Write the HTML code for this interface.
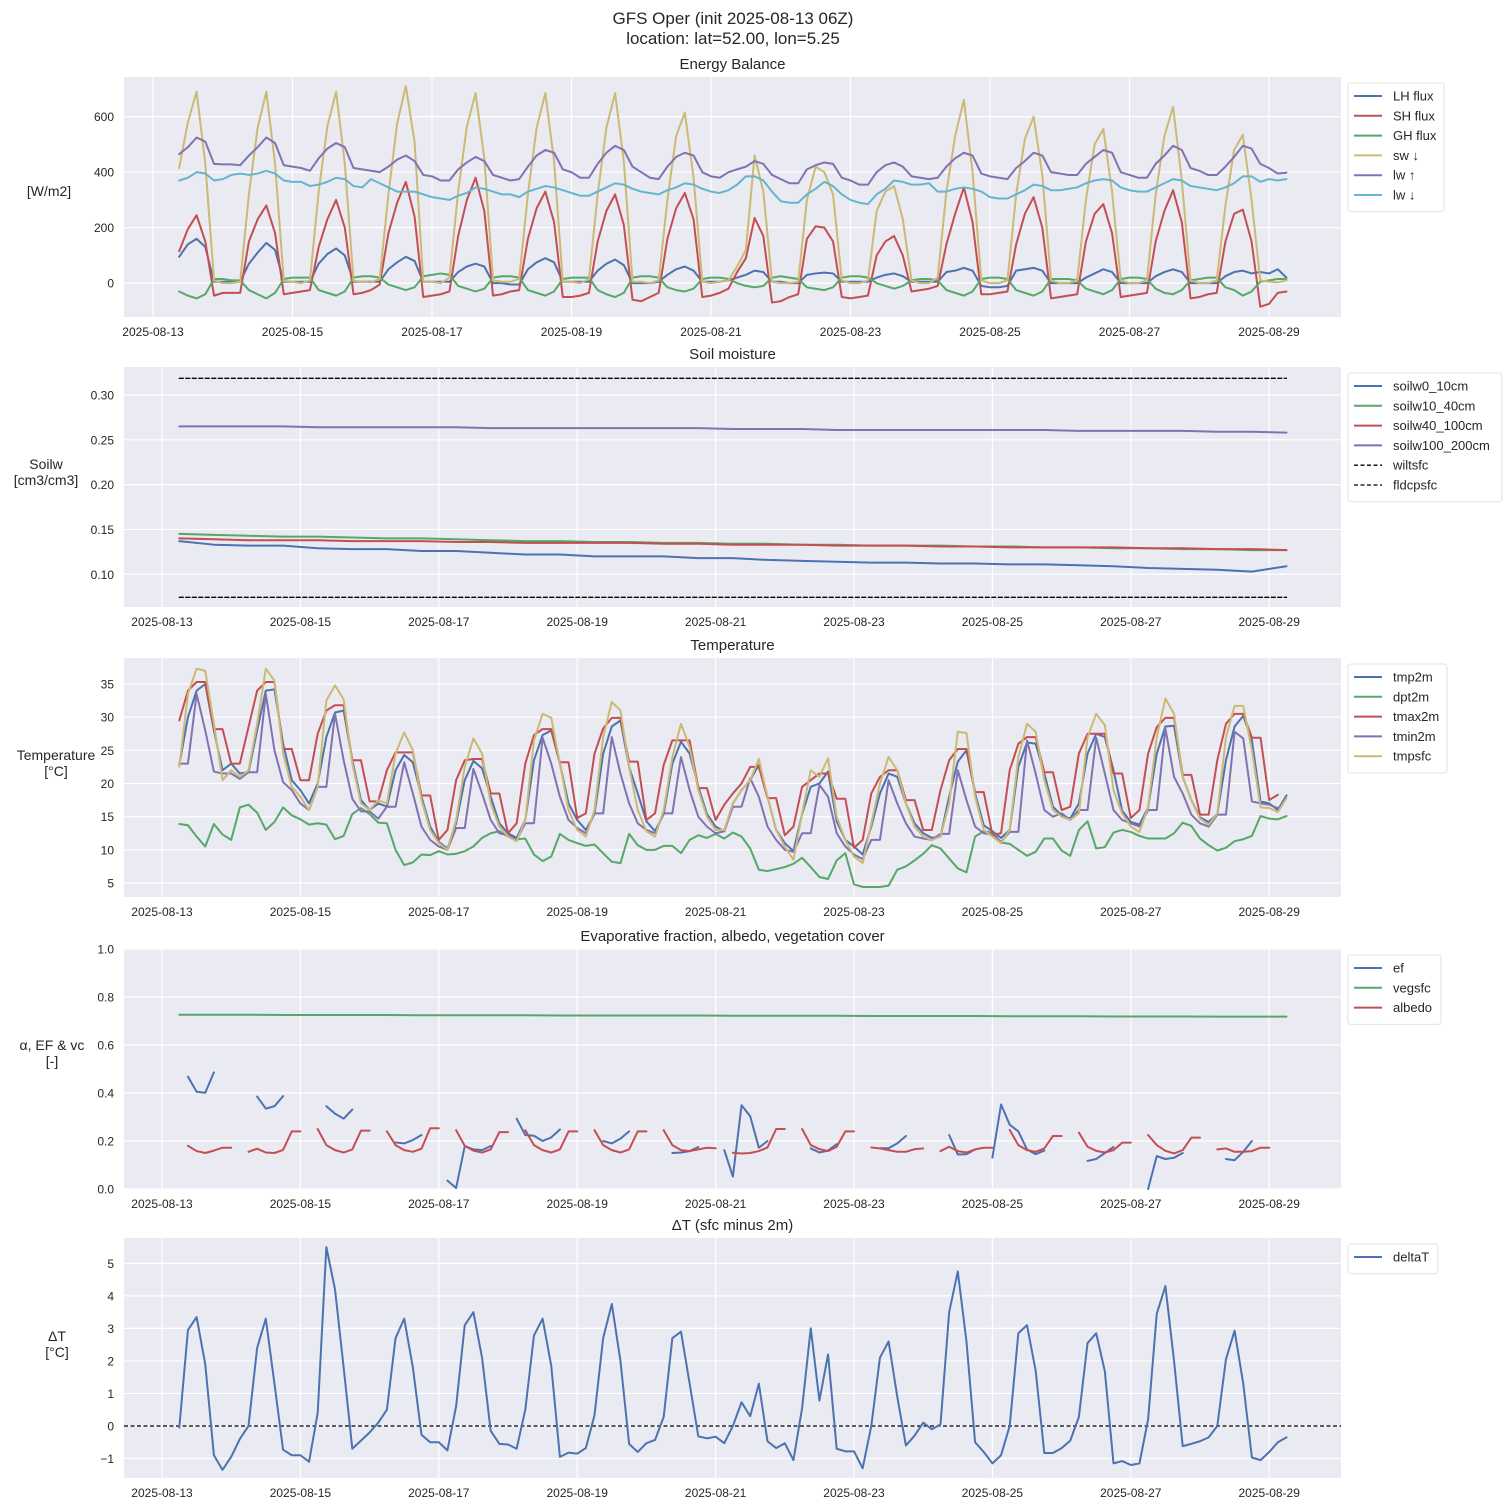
<!DOCTYPE html>
<html><head><meta charset="utf-8"><title>GFS Oper</title>
<style>
html,body{margin:0;padding:0;background:#fff;}
svg{display:block;font-family:"Liberation Sans",Arial,sans-serif;}
</style></head>
<body>
<svg id="fig" xmlns="http://www.w3.org/2000/svg" width="1511" height="1511" viewBox="0 0 1511 1511">
<rect x="0" y="0" width="1511" height="1511" fill="#ffffff"/>
<text x="733" y="24" font-size="17" text-anchor="middle" fill="#262626">GFS Oper (init 2025-08-13 06Z)</text>
<text x="733" y="44" font-size="17" text-anchor="middle" fill="#262626">location: lat=52.00, lon=5.25</text>
</svg>
<script>
// ---- dates / ticks ----
const dateTicks=[0,2,4,6,8,10,12,14,16];
const dateLabels=['2025-08-13','2025-08-15','2025-08-17','2025-08-19','2025-08-21','2025-08-23','2025-08-25','2025-08-27','2025-08-29'];

// ---- Energy balance (3-hourly from 13 09Z) ----
const ebStartHour=9;
const lhFlux=[95,140,160,130,5,
5,5,5,70,110,145,120,5, 5,5,5,70,105,125,100,5, 5,5,5,50,75,95,80,5, 5,5,5,40,60,70,60,0,
0,-5,-5,50,75,90,75,5, 5,5,5,45,70,85,65,0, 0,0,5,30,50,60,45,5, 5,5,10,20,30,45,40,5,
5,0,0,30,35,38,35,5, 5,5,5,20,30,35,25,5, 5,5,5,40,45,55,45,-10, -15,-15,-10,45,50,55,45,0,
0,0,0,20,35,50,40,0, 0,0,0,25,40,50,40,0, 0,0,0,25,40,45,35,40, 35,50,20];
const shFlux=[115,195,245,150,-45,
-35,-35,-35,150,230,280,180,-40, -35,-30,-25,130,230,300,200,-40, -35,-25,-5,180,290,365,240,-50,
-45,-40,-30,170,300,380,260,-45, -40,-30,-25,160,270,330,220,-50, -50,-45,-35,150,260,320,210,-60,
-65,-50,-35,160,270,325,230,-50, -45,-35,-20,40,90,235,170,-70, -65,-50,-40,160,205,200,150,-50,
-55,-50,-45,100,150,170,100,-30, -25,-20,-10,140,250,345,220,-40, -40,-35,-30,140,250,310,200,-55,
-50,-45,-40,150,250,285,180,-50, -45,-40,-35,150,260,335,220,-55, -50,-40,-35,150,250,265,150,-85,
-75,-35,-30];
const ghFlux=[-30,-45,-55,-40,15,
15,10,10,-25,-40,-55,-35,15, 20,20,20,-25,-35,-45,-30,20, 25,25,20,-5,-15,-25,-15,25,
30,35,30,-10,-20,-30,-20,20, 25,25,20,-25,-35,-45,-30,15, 20,20,20,-25,-40,-50,-35,20,
25,25,20,-15,-25,-30,-20,15, 20,20,15,0,-10,-15,-10,20, 25,20,15,-15,-20,-25,-15,20,
25,25,20,0,-10,-20,-10,10, 15,15,10,-25,-35,-45,-30,15, 20,20,15,-25,-35,-45,-30,15,
15,15,10,-20,-30,-40,-25,15, 20,20,15,-20,-35,-40,-25,10, 15,20,20,-15,-25,-45,-30,5,
10,15,15];
const swDown=[415,580,690,430,10,
0,0,5,320,560,690,430,8, 5,0,10,330,565,690,430,8, 5,3,15,320,575,710,510,5,
5,0,20,330,565,685,450,10, 5,5,15,320,560,685,440,5, 5,0,15,320,560,685,440,5,
5,0,10,300,530,615,380,5, 0,5,10,60,120,460,330,5, 0,0,5,300,420,400,320,10,
0,0,10,260,330,350,230,10, 0,0,20,330,530,660,400,10, 0,0,10,320,520,600,390,10,
0,0,10,300,500,555,330,10, 0,0,10,320,530,635,370,10, 0,0,10,280,480,535,300,10,
5,3,10];
const lwUp=[465,490,525,510,430,
428,428,425,460,490,525,505,425, 420,415,405,450,485,505,490,415, 410,405,400,420,445,460,440,390,
385,370,370,410,435,455,440,390, 380,370,375,420,460,480,470,410, 400,380,380,430,470,495,480,420,
400,380,375,420,455,470,460,400, 385,380,400,410,420,440,430,390, 375,360,360,410,425,435,430,380,
370,355,355,400,425,435,420,385, 380,375,380,420,450,470,460,395, 385,380,375,415,440,470,460,400,
395,390,390,430,455,480,470,400, 390,380,380,430,460,495,480,415, 405,390,390,420,455,495,485,430,
415,395,398];
const lwDown=[370,380,400,395,370,
375,390,395,390,395,405,395,370, 365,365,350,355,365,380,375,350, 345,375,360,345,330,330,330,320,
310,305,300,315,325,345,340,330, 320,320,310,330,340,350,345,335, 325,315,315,330,345,360,355,340,
330,325,320,335,345,360,355,340, 330,325,335,355,385,385,370,330, 295,290,290,320,340,365,350,320,
300,290,285,320,340,370,365,355, 355,360,330,330,340,345,340,330, 310,305,305,320,335,355,350,335,
335,340,345,360,370,375,370,345, 335,330,330,345,360,375,370,350, 345,340,335,345,360,385,385,365,
375,370,375];

// ---- Soil moisture (12-hourly from 13 06Z) ----
const soilStartHour=6;
const soilw0_10=[.137,.133,.132,.132,.129,.128,.128,.126,.126,.124,.122,.122,.120,.120,.120,.118,.118,.116,.115,.114,.113,.113,.112,.112,.111,.111,.110,.109,.107,.106,.105,.103,.109];
const soilw10_40=[.145,.144,.143,.142,.142,.141,.140,.140,.139,.138,.137,.137,.136,.136,.135,.135,.134,.134,.133,.133,.132,.132,.132,.131,.131,.130,.130,.129,.129,.128,.128,.127,.127];
const soilw40_100=[.140,.139,.138,.138,.138,.137,.137,.137,.136,.136,.135,.135,.135,.135,.134,.134,.133,.133,.133,.132,.132,.132,.131,.131,.130,.130,.130,.130,.129,.129,.128,.128,.127];
const soilw100_200=[.265,.265,.265,.265,.264,.264,.264,.264,.264,.263,.263,.263,.263,.263,.263,.263,.262,.262,.262,.261,.261,.261,.261,.261,.261,.261,.260,.260,.260,.260,.259,.259,.258];
const wiltsfc=[0.0743,0.0743];
const fldcpsfc=[0.3186,0.3186];

// ---- Temperature (3-hourly from 13 06Z) ----
const tStartHour=6;
const tmp2m=[22.8,30,34,35,28,22,
23,21.5,21.7,28,34,34.2,26,20.5, 19,17,20,27,30.7,31,23.5,17.5, 16,17,16.5,22,24.3,23.2,18,13.5,
11.2,10.2,14,20.5,23.4,22.3,18,14, 12.5,11.8,14.5,23.5,27.3,28,23,17, 14.5,13,15.4,24.5,28.6,29.5,22.5,18.5,
14.3,12.8,15.4,23,26.3,24.5,19.5,15.4, 13.5,12.8,17,19,20.5,22.8,18,13, 11,9.8,15.4,19.5,20,21.8,14.3,11.5,
10.5,9.3,13.5,18.5,21.5,21,17,14, 12.5,11.8,12,18,23.3,25,18.5,13.7, 12.8,11.8,13,22.5,26.2,26,21.5,16.5,
15.2,14.7,17,24.5,27.5,27,22,15.9, 14.2,13.8,16.4,24.5,28.6,28.7,21,17.5, 14.9,14.2,15.4,23.5,28.6,30.2,26.5,17.3,
17,16,18.2];
const dpt2m=[13.9,13.7,12,10.5,13.9,12.3,
11.5,16.4,16.8,15.6,13,14.2,16.4,15.2, 14.6,13.8,14,13.8,11.6,12.1,15.4,16.3, 15.4,14.1,14,10,7.7,8.1,9.3,9.2,
9.8,9.3,9.4,9.8,10.5,11.8,12.5,12.8, 12,11.6,11.7,9.3,8.3,9,12.4,11.5, 11,10.6,10.8,9.5,8.2,8,12.4,10.7,
10,10,10.6,10.6,9.5,11.5,12.2,11.8, 12.4,11.7,12.6,12,10.2,7,6.8,7.1, 7.4,7.9,8.8,7.4,5.9,5.6,8.4,9.5,
4.8,4.4,4.4,4.4,4.6,7,7.5,8.4, 9.4,10.7,10.2,8.7,7.2,6.6,12,12.8, 12.6,11.1,10.9,10,9.1,9.7,11.7,11.7,
9.9,9.1,13,14.3,10.2,10.4,12.6,13, 12.7,12.1,11.7,11.7,11.7,12.5,14.1,13.6, 11.7,10.7,9.9,10.3,11.3,11.6,12.1,15.1,
14.7,14.6,15.1];
const tmax2m=[29.5,34,35.3,35.3,28.2,28.2,
23,23,28.5,34,35.3,35.3,25.2,25.2, 20.5,20.5,27.5,31,31.8,31.8,23.5,23.5, 17.3,17.3,22,24.7,24.7,24.7,18.2,18.2,
11.5,13,20.5,23.5,23.7,23.7,18.5,18.5, 12.5,14,23,27.3,28.2,28.2,23.2,23.2, 14.8,15.5,24.5,28.3,29.9,29.9,23.3,23.3,
14.5,15.5,22.8,26.5,26.5,26.5,19.3,19.3, 14.5,16.8,18.5,20,22.5,22.5,17.8,17.8, 12.2,13.5,19.5,20.5,21.5,21.5,17.7,17.7,
10.3,11.5,18.5,21,22,22,17.5,17.5, 13,13,19,23.5,25.2,25.2,18.7,18.7, 12.3,12.5,22,26,27,27,21.7,21.7,
16,16.5,24.5,27.5,27.5,27.5,21.5,21.5, 14.8,16,24.5,28.5,29.9,29.9,21.3,21.3, 15.3,15.3,23.5,29,30.5,30.5,26.9,26.9,
17.5,18.3,null];
const tmin2m=[23,23,33.5,28,21.8,21.5,
21.5,20.7,21.7,21.7,33.5,25,20.2,19, 17,16,19.5,19.5,30.5,23.5,17.7,15.8, 15.8,14.7,16.5,16.5,23.2,18.5,13.5,11.5,
10.5,10,13.3,13.3,22.2,18.5,14.5,12.5, 12.2,11.5,14,14,26.9,23,18,14.5, 13.3,12.5,15.5,15.5,27,21.5,17,14,
13,12.5,15.5,15.5,24,19,15,13.5, 12.5,12.8,16.5,16.5,20.8,18,13.5,11.5, 10,9.7,12.5,12.5,19.8,18,12.5,10.5,
9.3,8.6,11.5,11.5,20.5,17,14,12, 11.7,11.5,12.4,12.4,22,17.5,13.5,12.5, 12.3,11.2,12.7,12.7,26.5,21.5,16,15,
15.5,14.5,16,16,26.9,21.5,16,14.5, 14,13.5,16,16,28.3,21,18.5,15.3, 14,13.5,15.3,15.3,27.8,26.8,17.3,17,
16.8,16.3,null];
const tmpsfc=[22.5,33.5,37.3,37,29,20.5,
22,21,22,29,37.3,35.5,24.5,19.5, 18,16,19.5,32.5,34.8,32.7,23,17, 16,17.5,17,24.5,27.7,25,17.5,13,
11,10,14.5,22.5,26.8,24.5,17,13.5, 12,11.3,14.5,26.5,30.5,29.9,23,16, 13,12,16,27,32.3,31,22.5,16,
12.8,12,16,24,29,25.5,19,15, 13,13,17,19,20.5,23.7,18,13, 10.5,8.5,15.5,22,21,23.8,15,11.5,
9,8,14,20,24,22,17,13.5, 12,11.5,12,17,27.8,27.6,18,13, 12,11,13,24,29,27.8,20.5,16,
15,14.5,15.5,27,30.5,28.8,19,15.5, 13.5,12.7,16.5,27,32.8,30.5,21,17.5, 14.7,13.8,15.5,27,31.7,31.7,25,16.4,
16.3,15.7,17.8];

// ---- Evaporative fraction / albedo / vegetation ----
const ef=[null,.468,.405,.401,.486,null,
null,null,null,.385,.335,.345,.387,null, null,null,null,.345,.314,.293,.331,null, null,null,null,.194,.19,.204,.225,null,
null,.035,.004,.179,.165,.162,.179,null, null,.293,.225,.222,.2,.215,.248,null, null,null,null,.2,.19,.21,.24,null,
null,null,null,.15,.152,.158,.175,null, null,.162,.052,.349,.303,.172,.2,null, null,null,null,.169,.152,.16,.187,null,
null,null,null,.17,.17,.19,.221,null, null,null,null,.225,.144,.145,.165,null, .131,.352,.268,.24,.165,.145,.16,null,
null,null,null,.117,.125,.15,.175,null, null,null,0,.137,.125,.13,.15,null, null,null,null,.125,.12,.155,.2,null,
null,null,null];
const albedo=[null,.18,.158,.15,.16,.172,
.172,null,.155,.168,.152,.15,.163,.24, .24,null,.25,.183,.162,.152,.165,.243, .243,null,.24,.183,.162,.155,.168,.253,
.253,null,.245,.18,.16,.152,.165,.237, .237,null,.245,.183,.162,.152,.165,.24, .24,null,.245,.183,.162,.152,.165,.24,
.24,null,.245,.183,.162,.158,.165,.172, .17,null,.151,.148,.15,.158,.173,.25, .25,null,.25,.183,.166,.158,.176,.24,
.24,null,.173,.169,.162,.155,.155,.166, .169,null,.158,.176,.158,.152,.165,.172, .172,null,.246,.183,.162,.155,.169,.221,
.221,null,.235,.176,.159,.152,.162,.193, .193,null,.225,.183,.159,.148,.162,.214, .214,null,.165,.169,.155,.155,.158,.172,
.172,null,null];
const vegsfc=[.726,.726,.726,.725,.725,.725,.725,.724,.724,.724,.724,.723,.723,.723,.723,.723,.722,.722,.722,.722,.721,.721,.721,.721,.720,.720,.720,.719,.719,.719,.718,.718,.718];

// ---- Delta T ----
const deltaT=[-0.05,2.95,3.35,1.9,-0.9,-1.35,-0.95,-0.4,0,2.4,3.3,1.3,-0.73,-0.9,-0.9,-1.1,0.4,5.5,4.2,1.8,-0.7,-0.45,-0.2,0.1,0.5,2.7,3.3,1.8,-0.27,-0.5,-0.5,-0.75,
0.6,3.1,3.5,2.1,-0.15,-0.55,-0.57,-0.7,0.5,2.78,3.3,1.85,-0.95,-0.82,-0.85,-0.68,0.33,2.7,3.75,2,-0.55,-0.8,-0.53,-0.43,0.28,2.7,2.9,1.3,-0.32,-0.38,-0.33,-0.53,
0,0.73,0.3,1.3,-0.47,-0.68,-0.53,-1.05,0.55,3.0,0.78,2.2,-0.7,-0.78,-0.78,-1.3,0,2.1,2.6,0.9,-0.6,-0.3,0.1,-0.1,0.05,3.5,4.75,2.6,-0.5,-0.8,-1.15,-0.9,
0,2.85,3.1,1.7,-0.83,-0.83,-0.68,-0.45,0.28,2.55,2.85,1.68,-1.15,-1.08,-1.2,-1.15,0.2,3.45,4.3,2,-0.62,-0.55,-0.47,-0.35,0,2.05,2.93,1.3,-0.97,-1.05,-0.8,-0.5,-0.35];

// ---- drawing ----
const NS='http://www.w3.org/2000/svg';
const svg=document.getElementById('fig');
const C={blue:'#4C72B0',green:'#55A868',red:'#C44E52',purple:'#8172B2',yellow:'#CCB974',cyan:'#64B5CD'};
const AX_L=124, AX_R=1341;
function el(tag,attrs,parent){const e=document.createElementNS(NS,tag);for(const k in attrs)e.setAttribute(k,attrs[k]);(parent||svg).appendChild(e);return e;}

function makePanel(cfg){
  const g=el('g',{});
  
  
  const bg=el('rect',{x:AX_L,y:cfg.top,width:AX_R-AX_L,height:cfg.bot-cfg.top,fill:'#EAEAF2'},g);
  
  
  cfg.xs=h=>cfg.x13+h/24*cfg.pxd;
  cfg.ys=v=>cfg.bot-(v-cfg.ymin)/(cfg.ymax-cfg.ymin)*(cfg.bot-cfg.top);
  dateTicks.forEach((d,i)=>{
    const x=cfg.xs(d*24);
    const gl=el('line',{x1:x,x2:x,y1:cfg.top,y2:cfg.bot,stroke:'#fff','stroke-width':1.2},g);
    
    
    const t=el('text',{x:x,y:cfg.bot+19,'font-size':12,'text-anchor':'middle',fill:'#262626'},g);
    t.textContent=dateLabels[i];
    
    
  });
  cfg.yticks.forEach(v=>{
    const y=cfg.ys(v);
    const gl=el('line',{x1:AX_L,x2:AX_R,y1:y,y2:y,stroke:'#fff','stroke-width':1.2},g);
    
    
    const t=el('text',{x:114,y:y+4.5,'font-size':12,'text-anchor':'end',fill:'#262626'},g);
    t.textContent=cfg.fmt(v);
    
    
  });
  const tt=el('text',{x:(AX_L+AX_R)/2,y:cfg.top-8,'font-size':15,'text-anchor':'middle',fill:'#262626'},g);
  tt.textContent=cfg.title;
  
  
  cfg.ylab.forEach((s,i)=>{
    const t=el('text',{x:cfg.ylx,y:cfg.yly+i*16,'font-size':14,'text-anchor':'middle',fill:'#262626'},g);
    t.textContent=s;
    
    
  });
  cfg.g=g;
  return cfg;
}
function series(cfg,vals,startH,stepH,color,name,dash){
  let d='',pen=false;
  vals.forEach((v,i)=>{
    if(v===null||v===undefined){pen=false;return;}
    const x=cfg.xs(startH+i*stepH).toFixed(2), y=cfg.ys(v).toFixed(2);
    d+=(pen?'L':'M')+x+' '+y+' ';pen=true;
  });
  const p=el('path',{d:d,fill:'none',stroke:color,'stroke-width':dash?1.3:2,'stroke-linejoin':'round','stroke-linecap':'round'},cfg.g);
  if(dash)p.setAttribute('stroke-dasharray','4,2.5');
  
  
}
function legend(cfg,items,x,y,w){
  const lg=el('g',{},cfg.g);
  
  
  el('rect',{x:x,y:y,width:w,height:items.length*19.8+10,rx:3,fill:'#ffffff','fill-opacity':0.85,stroke:'#e2e2e2'},lg);
  items.forEach((it,i)=>{
    const yy=y+13+i*19.8;
    const ln=el('line',{x1:x+6,x2:x+34,y1:yy,y2:yy,stroke:it[1],'stroke-width':it[2]?1.3:2,'stroke-dasharray':it[2]?'4,2.5':'none'},lg);
    
    
    const t=el('text',{x:x+45,y:yy+4.5,'font-size':13,fill:'#262626'},lg);
    t.textContent=it[0];
    
    
  });
}

// Panel 1
const p1=makePanel({name:'energy-balance-panel',top:77,bot:317,x13:153,pxd:69.75,ymin:-122,ymax:743,yticks:[0,200,400,600],fmt:v=>String(v),title:'Energy Balance',ylab:['[W/m2]'],ylx:49,yly:196});
series(p1,lhFlux,ebStartHour,3,C.blue,'lh-flux');
series(p1,shFlux,ebStartHour,3,C.red,'sh-flux');
series(p1,ghFlux,ebStartHour,3,C.green,'gh-flux');
series(p1,swDown,ebStartHour,3,C.yellow,'sw-down');
series(p1,lwUp,ebStartHour,3,C.purple,'lw-up');
series(p1,lwDown,ebStartHour,3,C.cyan,'lw-down');
legend(p1,[['LH flux',C.blue],['SH flux',C.red],['GH flux',C.green],['sw ↓',C.yellow],['lw ↑',C.purple],['lw ↓',C.cyan]],1348,83,96);

// Panel 2
const p2=makePanel({name:'soil-moisture-panel',top:367,bot:607,x13:162,pxd:69.2,ymin:0.0635,ymax:0.3312,yticks:[0.10,0.15,0.20,0.25,0.30],fmt:v=>v.toFixed(2),title:'Soil moisture',ylab:['Soilw','[cm3/cm3]'],ylx:46,yly:469});
series(p2,soilw0_10,soilStartHour,12,C.blue,'soilw0-10cm');
series(p2,soilw10_40,soilStartHour,12,C.green,'soilw10-40cm');
series(p2,soilw40_100,soilStartHour,12,C.red,'soilw40-100cm');
series(p2,soilw100_200,soilStartHour,12,C.purple,'soilw100-200cm');
series(p2,wiltsfc,soilStartHour,384,'#000','wiltsfc',true);
series(p2,fldcpsfc,soilStartHour,384,'#000','fldcpsfc',true);
legend(p2,[['soilw0_10cm',C.blue],['soilw10_40cm',C.green],['soilw40_100cm',C.red],['soilw100_200cm',C.purple],['wiltsfc','#000',true],['fldcpsfc','#000',true]],1348,373,154);

// Panel 3
const p3=makePanel({name:'temperature-panel',top:658,bot:897,x13:162,pxd:69.2,ymin:2.89,ymax:38.92,yticks:[5,10,15,20,25,30,35],fmt:v=>String(v),title:'Temperature',ylab:['Temperature','[°C]'],ylx:56,yly:760});
series(p3,tmp2m,tStartHour,3,C.blue,'tmp2m');
series(p3,dpt2m,tStartHour,3,C.green,'dpt2m');
series(p3,tmax2m,tStartHour,3,C.red,'tmax2m');
series(p3,tmin2m,tStartHour,3,C.purple,'tmin2m');
series(p3,tmpsfc,tStartHour,3,C.yellow,'tmpsfc');
legend(p3,[['tmp2m',C.blue],['dpt2m',C.green],['tmax2m',C.red],['tmin2m',C.purple],['tmpsfc',C.yellow]],1348,664,99);

// Panel 4
const p4=makePanel({name:'evaporative-fraction-panel',top:949,bot:1189,x13:162,pxd:69.2,ymin:0,ymax:1,yticks:[0,0.2,0.4,0.6,0.8,1.0],fmt:v=>v.toFixed(1),title:'Evaporative fraction, albedo, vegetation cover',ylab:['α, EF & vc','[-]'],ylx:52,yly:1050});
series(p4,ef,tStartHour,3,C.blue,'ef');
series(p4,vegsfc,soilStartHour,12,C.green,'vegsfc');
series(p4,albedo,tStartHour,3,C.red,'albedo');
legend(p4,[['ef',C.blue],['vegsfc',C.green],['albedo',C.red]],1348,955,93);

// Panel 5
const p5=makePanel({name:'delta-t-panel',top:1238,bot:1478,x13:162,pxd:69.2,ymin:-1.6,ymax:5.78,yticks:[-1,0,1,2,3,4,5],fmt:v=>v<0?'−'+Math.abs(v):String(v),title:'ΔT (sfc minus 2m)',ylab:['ΔT','[°C]'],ylx:57,yly:1341});
const zl=el('line',{x1:AX_L,x2:AX_R,y1:p5.ys(0),y2:p5.ys(0),stroke:'#000','stroke-width':1.3,'stroke-dasharray':'4,2.5'},p5.g);


series(p5,deltaT,tStartHour,3,C.blue,'delta-t');
legend(p5,[['deltaT',C.blue]],1348,1244,90);
</script>
</body></html>
